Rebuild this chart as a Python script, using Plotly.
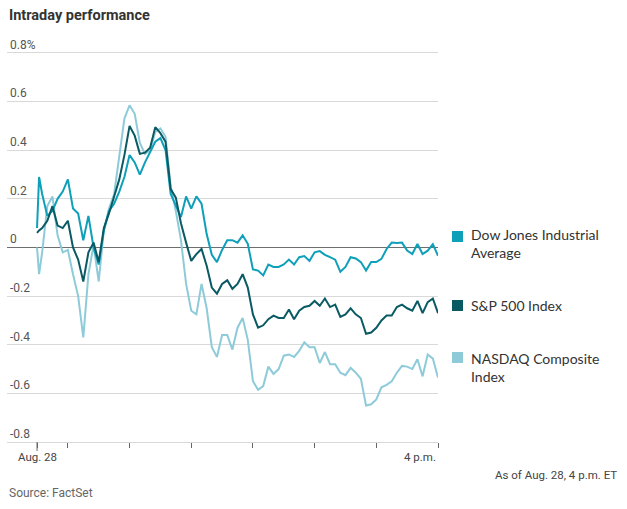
import plotly.graph_objects as go

# minutes after the 9:30 a.m. open
minutes = [0, 2] + list(range(5, 395, 5))

dow = [
    0.08, 0.29, 0.22, 0.13, 0.15, 0.20, 0.23, 0.28, 0.16, 0.14,
    0.03, 0.13, 0.00, -0.07, 0.07, 0.15, 0.18, 0.23, 0.29, 0.38,
    0.35, 0.30, 0.35, 0.39, 0.435, 0.45, 0.40, 0.22, 0.17, 0.125,
    0.21, 0.16, 0.21, 0.18, 0.055, -0.03, -0.06, -0.01, 0.03, 0.03,
    0.02, 0.05, 0.015, -0.09, -0.095, -0.115, -0.07, -0.08, -0.08, -0.07,
    -0.05, -0.07, -0.04, -0.035, -0.055, -0.02, -0.015, -0.03, -0.04, -0.05,
    -0.10, -0.08, -0.04, -0.045, -0.06, -0.095, -0.06, -0.06, -0.047, -0.006,
    0.02, 0.018, 0.02, -0.013, -0.027, 0.014, -0.027, -0.013, 0.014, -0.034,
]
sp500 = [
    0.06, 0.07, 0.08, 0.11, 0.17, 0.09, 0.08, 0.11, 0.00, -0.05,
    -0.14, -0.02, 0.02, -0.06, 0.08, 0.14, 0.21, 0.28, 0.38, 0.50,
    0.46, 0.385, 0.39, 0.41, 0.495, 0.47, 0.435, 0.24, 0.205, 0.10,
    0.02, -0.055, -0.027, -0.006, -0.075, -0.165, -0.19, -0.15, -0.135, -0.17,
    -0.15, -0.11, -0.165, -0.275, -0.33, -0.32, -0.295, -0.28, -0.29, -0.29,
    -0.255, -0.295, -0.26, -0.245, -0.24, -0.22, -0.24, -0.21, -0.245, -0.235,
    -0.285, -0.275, -0.25, -0.275, -0.29, -0.355, -0.35, -0.33, -0.30, -0.28,
    -0.28, -0.245, -0.235, -0.25, -0.26, -0.22, -0.27, -0.225, -0.21, -0.27,
]
nasdaq = [
    0.00, -0.11, -0.02, 0.17, 0.21, 0.05, -0.02, -0.01, -0.11, -0.20,
    -0.37, -0.11, 0.01, -0.14, 0.07, 0.16, 0.22, 0.37, 0.53, 0.585,
    0.55, 0.43, 0.385, 0.40, 0.475, 0.49, 0.455, 0.25, 0.15, 0.03,
    -0.15, -0.26, -0.275, -0.15, -0.25, -0.41, -0.45, -0.36, -0.36, -0.42,
    -0.33, -0.29, -0.38, -0.55, -0.585, -0.57, -0.49, -0.52, -0.50, -0.445,
    -0.44, -0.45, -0.425, -0.39, -0.41, -0.41, -0.475, -0.43, -0.48, -0.48,
    -0.515, -0.525, -0.495, -0.515, -0.54, -0.65, -0.645, -0.625, -0.575, -0.565,
    -0.55, -0.515, -0.487, -0.49, -0.50, -0.46, -0.53, -0.44, -0.457, -0.535,
]

y_ticks = [0.8, 0.6, 0.4, 0.2, 0, -0.2, -0.4, -0.6, -0.8]
y_tick_labels = ["0.8%", "0.6", "0.4", "0.2", "0", "-0.2", "-0.4", "-0.6", "-0.8"]
x_ticks = [0, 30, 90, 150, 210, 270, 330, 390]

DOW_C = "#0e9fb9"
SP_C = "#0a5a64"
NQ_C = "#8ecbd9"

W, H = 627, 509
# plot box: the 0.8 grid line sits at y=53, the -0.8 one at y=442
L, R, T, B = 7, 189, 34, 67
NARROW = "Roboto"


def px_x(px):
    return (px - L) / (W - L - R)


def px_y(py):
    return (H - B - py) / (H - T - B)


fig = go.Figure()
for name, vals, color in [
    ("NASDAQ Composite Index", nasdaq, NQ_C),
    ("Dow Jones Industrial Average", dow, DOW_C),
    ("S&P 500 Index", sp500, SP_C),
]:
    fig.add_trace(
        go.Scatter(x=minutes, y=vals, mode="lines", name=name,
                   line=dict(color=color, width=2))
    )

fig.update_xaxes(
    range=[-29.2, 390],
    tickvals=x_ticks,
    showticklabels=False,
    ticks="outside",
    ticklen=5,
    tickcolor="#666",
    showgrid=False,
    showline=True,
    linecolor="#d9d9d9",
    zeroline=False,
    automargin=False,
)
fig.update_yaxes(
    range=[-0.8, 0.878],
    tickvals=y_ticks,
    ticktext=y_tick_labels,
    ticklabelposition="inside top",
    tickfont=dict(family=NARROW, size=12, color="#555"),
    showgrid=True,
    gridcolor="#d9d9d9",
    gridwidth=1,
    zeroline=True,
    zerolinecolor="#6e6e6e",
    zerolinewidth=1.3,
    automargin=False,
)

annotations = [
    dict(text="<b>Intraday performance</b>", x=px_x(7), y=px_y(16),
         font=dict(family=NARROW, size=14.5, color="#333")),
    dict(text="Aug. 28", x=0, xref="x", y=px_y(457), xanchor="center",
         font=dict(family=NARROW, size=11.5, color="#444")),
    dict(text="4 p.m.", x=390, xref="x", y=px_y(457), xanchor="right",
         font=dict(family=NARROW, size=11.5, color="#444")),
    dict(text="As of Aug. 28, 4 p.m. ET", x=px_x(619), y=px_y(475), xanchor="right",
         font=dict(family=NARROW, size=11.5, color="#444")),
    dict(text="Source: FactSet", x=px_x(7), y=px_y(493),
         font=dict(family=NARROW, size=12, color="#666")),
    dict(text="Dow Jones Industrial<br>Average", x=px_x(469), y=px_y(244), align="left",
         font=dict(family="Lato", size=14, color="#333")),
    dict(text="S&P 500 Index", x=px_x(469), y=px_y(305),
         font=dict(family="Lato", size=14, color="#333")),
    dict(text="NASDAQ Composite<br>Index", x=px_x(469), y=px_y(367), align="left",
         font=dict(family="Lato", size=14, color="#333")),
]
for a in annotations:
    a.setdefault("xref", "paper")
    a.setdefault("xanchor", "left")
    a.update(yref="paper", yanchor="middle", showarrow=False)

shapes = []
for top, color in [(231, DOW_C), (300, SP_C), (352, NQ_C)]:
    shapes.append(dict(type="rect", xref="paper", yref="paper",
                       x0=px_x(452), x1=px_x(463), y0=px_y(top + 11), y1=px_y(top),
                       fillcolor=color, line=dict(width=0)))
# longer first tick at the open
shapes.append(dict(type="line", xref="x", yref="paper", x0=0, x1=0,
                   y0=0, y1=px_y(H - B + 9), line=dict(color="#666", width=1)))

fig.update_layout(
    width=W,
    height=H,
    autosize=False,
    margin=dict(l=L, r=R, t=T, b=B, pad=0, autoexpand=False),
    plot_bgcolor="white",
    paper_bgcolor="white",
    showlegend=False,
    annotations=annotations,
    shapes=shapes,
)

# drop the browser's default body margin so the chart sits at the page origin
fig.write_html(
    "out.html",
    config={"displayModeBar": False},
    post_script="document.body.style.margin = '0';",
)
